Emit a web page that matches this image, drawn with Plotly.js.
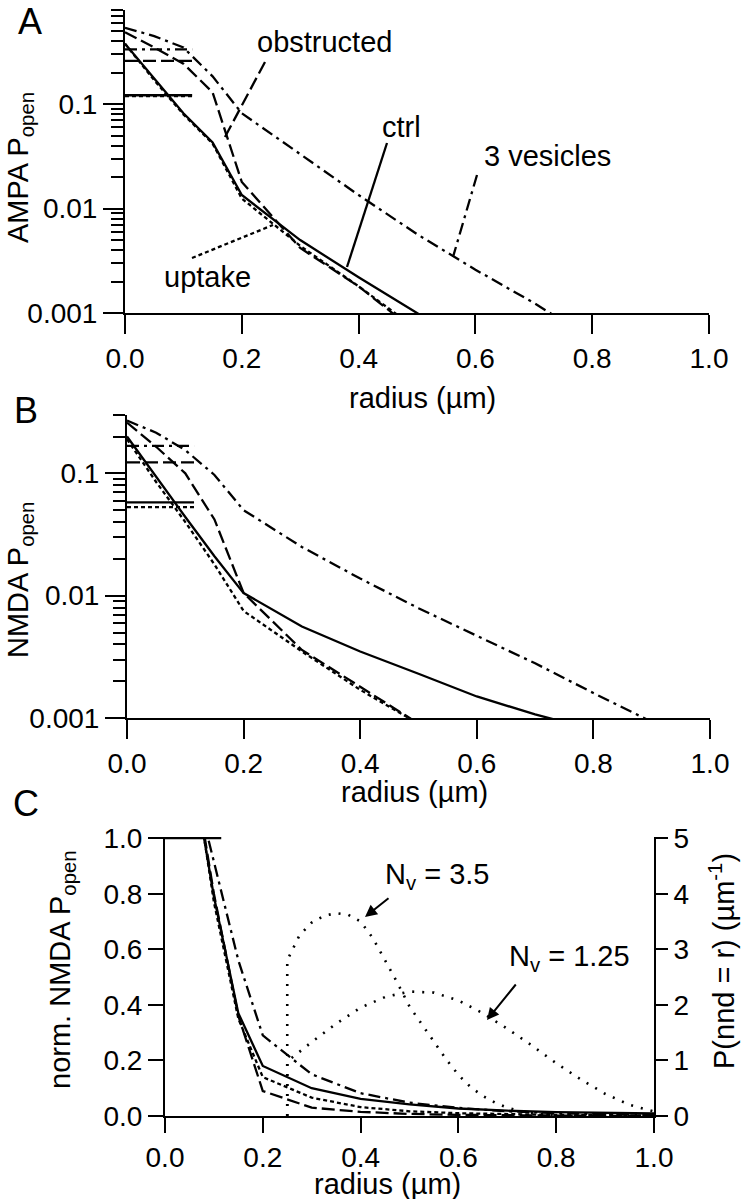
<!DOCTYPE html>
<html><head><meta charset="utf-8">
<script src="https://cdn.plot.ly/plotly-3.0.1.min.js"></script>
<style>html,body{margin:0;padding:0;background:#fff}#chart{width:745px;height:1199px}</style>
</head><body><div id="chart"></div>
<script>
// ---------- data ----------
const radius = [0, 0.05, 0.1, 0.15, 0.2, 0.3, 0.4, 0.5, 0.6, 0.7, 0.8, 0.9, 1.0];

// Panel A: AMPA Popen
const ctrlA   = [0.38, 0.175, 0.082, 0.043, 0.0135, 0.005, 0.0022, 0.001, 0.00045, 0.0002, 0.0001, 0.00005, 0.00003];
const obstrA  = [0.49, 0.35, 0.245, 0.13, 0.018, 0.0042, 0.0018, 0.00065, 0.0003, 0.00015, 0.00008, 0.00004, 0.00002];
const uptakeA = [0.38, 0.17, 0.08, 0.042, 0.0125, 0.0044, 0.0018, 0.0007, 0.0003, 0.00015, 0.00008, 0.00004, 0.00002];
const vesA    = [0.54, 0.45, 0.35, 0.185, 0.082, 0.033, 0.0135, 0.0057, 0.0026, 0.00125, 0.00055, 0.00025, 0.0001];

// Panel B: NMDA Popen
const ctrlB   = [0.20, 0.093, 0.044, 0.021, 0.0105, 0.0056, 0.0035, 0.0023, 0.0015, 0.00107, 0.0008, 0.0006, 0.00045];
const obstrB  = [0.26, 0.165, 0.10, 0.042, 0.0105, 0.0036, 0.0018, 0.0009, 0.0005, 0.0003, 0.0002, 0.0001, 0.00006];
const uptakeB = [0.19, 0.085, 0.040, 0.018, 0.0075, 0.0035, 0.0017, 0.0009, 0.0005, 0.0003, 0.0002, 0.0001, 0.00006];
const vesB    = [0.27, 0.215, 0.155, 0.097, 0.05, 0.025, 0.0138, 0.0079, 0.0047, 0.0028, 0.0016, 0.00093, 0.0005];

// mean Popen over the PSD (0 .. 0.115 um)
const meanX = [0, 0.115];
const meanA = {ctrl: 0.122, obstr: 0.26, uptake: 0.12, ves: 0.335};
const meanB = {ctrl: 0.058, obstr: 0.123, uptake: 0.053, ves: 0.168};

// Panel C: normalised NMDA Popen
const ctrlC   = [3.4, 1.31, 0.79, 0.37, 0.18, 0.10, 0.062, 0.042, 0.027, 0.019, 0.014, 0.011, 0.009];
const obstrC  = [2.1, 1.34, 0.80, 0.36, 0.09, 0.03, 0.015, 0.0075, 0.004, 0.002, 0.001, 0.0005, 0.0003];
const uptakeC = [3.6, 1.35, 0.77, 0.35, 0.14, 0.066, 0.032, 0.017, 0.01, 0.006, 0.004, 0.003, 0.002];
const vesC    = [1.6, 1.27, 0.915, 0.56, 0.29, 0.15, 0.082, 0.048, 0.029, 0.017, 0.01, 0.006, 0.003];
const normMean = [1, 1];

// nearest-neighbour distance distributions (right axis)
const nndX35 = [0.25, 0.25, 0.275, 0.3, 0.325, 0.35, 0.375, 0.4, 0.425, 0.45, 0.475, 0.5, 0.525, 0.55, 0.575, 0.6, 0.625, 0.65, 0.675, 0.7, 0.725, 0.75, 0.8, 0.85];
const nnd35  = [0, 2.8, 3.25, 3.48, 3.6, 3.65, 3.62, 3.5, 3.2, 2.8, 2.4, 1.97, 1.65, 1.34, 1.02, 0.74, 0.52, 0.36, 0.24, 0.15, 0.09, 0.05, 0.01, 0.0];
const nndX125 = [0.25, 0.25, 0.3, 0.35, 0.4, 0.45, 0.5, 0.55, 0.6, 0.65, 0.7, 0.75, 0.8, 0.85, 0.9, 0.95, 1.0];
const nnd125  = [0, 0.98, 1.33, 1.66, 1.95, 2.14, 2.24, 2.22, 2.08, 1.85, 1.57, 1.27, 0.95, 0.66, 0.4, 0.2, 0.08];

// ---------- styles ----------
const W = 745, H = 1199;
const FONT = 'Liberation Sans, Arial, Helvetica, sans-serif';
const STY = {
  ctrl:   {color: '#000', width: 2.3, dash: 'solid'},
  obstr:  {color: '#000', width: 2.3, dash: '13px,5px'},
  uptake: {color: '#000', width: 2.3, dash: '4px,3px'},
  ves:    {color: '#000', width: 2.3, dash: '12px,5px,3px,5px'},
  nnd:    {color: '#000', width: 2.6, dash: '2px,8px'}
};
const px = x => x / W;
const py = y => 1 - y / H;

const traces = [];
function line(x, y, sty, xa, ya, name) {
  traces.push({type: 'scatter', mode: 'lines', x: x, y: y, xaxis: xa, yaxis: ya, name: name,
               line: Object.assign({}, sty), hoverinfo: 'skip', showlegend: false});
}
const keys = ['ctrl', 'obstr', 'uptake', 'ves'];
const serA = {ctrl: ctrlA, obstr: obstrA, uptake: uptakeA, ves: vesA};
const serB = {ctrl: ctrlB, obstr: obstrB, uptake: uptakeB, ves: vesB};
const serC = {ctrl: ctrlC, obstr: obstrC, uptake: uptakeC, ves: vesC};
keys.forEach(k => {
  line(radius, serA[k], STY[k], 'x', 'y', k);
  line(meanX, [meanA[k], meanA[k]], STY[k], 'x', 'y', k + ' mean');
  line(radius, serB[k], STY[k], 'x2', 'y2', k);
  line(meanX, [meanB[k], meanB[k]], STY[k], 'x2', 'y2', k + ' mean');
  line(radius, serC[k], STY[k], 'x3', 'y3', k);
});
line(meanX, normMean, STY.ctrl, 'x3', 'y3', 'norm mean');
line(nndX35, nnd35, STY.nnd, 'x3', 'y4', 'Nv=3.5');
line(nndX125, nnd125, STY.nnd, 'x3', 'y4', 'Nv=1.25');

// ---------- axes ----------
function minorLog(lo, hi) {
  const v = [];
  for (let e = lo; e < hi; e++) for (let m = 2; m <= 9; m++) v.push(m * Math.pow(10, e));
  return v;
}
const tickfont = {family: FONT, size: 28, color: '#000'};
const base = {showline: true, linecolor: '#000', linewidth: 2, ticks: 'outside', tickwidth: 2,
              tickcolor: '#000', showgrid: false, zeroline: false, tickfont: tickfont, fixedrange: true};
const xBase = (dom, anchor, len) => Object.assign({}, base, {domain: dom, anchor: anchor, range: [0, 1],
              tickmode: 'linear', tick0: 0, dtick: 0.2, tickformat: '.1f', ticklen: len});
const yLog = (dom, anchor, top) => Object.assign({}, base, {domain: dom, anchor: anchor, type: 'log',
              range: [-3, Math.log10(top)], tickmode: 'array', tickvals: [0.001, 0.01, 0.1],
              ticktext: ['0.001', '0.01', '0.1'], ticklen: 20,
              minor: {tickmode: 'array', tickvals: minorLog(-3, 0).filter(v => v <= top + 1e-9),
                      ticks: 'outside', ticklen: 12, tickwidth: 2, tickcolor: '#000', showgrid: false}});

const layout = {
  width: W, height: H, margin: {l: 0, r: 0, t: 0, b: 0},
  paper_bgcolor: '#fff', plot_bgcolor: 'rgba(0,0,0,0)', showlegend: false,
  font: {family: FONT, size: 28, color: '#000'},
  xaxis:  xBase([125 / W, 709 / W], 'y', 19),
  yaxis:  yLog([py(313), py(10)], 'x', 0.8),
  xaxis2: xBase([127 / W, 710 / W], 'y2', 19),
  yaxis2: yLog([py(718), py(415)], 'x2', 0.3),
  xaxis3: xBase([165 / W, 654 / W], 'y3', 15),
  yaxis3: Object.assign({}, base, {domain: [py(1116), py(837)], anchor: 'x3', range: [0, 1.004],
           tickmode: 'array', tickvals: [0, 0.2, 0.4, 0.6, 0.8, 1.0], ticktext: ['0.0', '0.2', '0.4', '0.6', '0.8', '1.0'], ticklen: 15}),
  yaxis4: Object.assign({}, base, {domain: [py(1116), py(837)], anchor: 'x3', overlaying: 'y3', side: 'right',
           range: [0, 5.02], tickmode: 'array', tickvals: [0, 1, 2, 3, 4, 5], ticklen: 12}),
  annotations: [],
  shapes: []
};

function txt(t, x, y, size, angle) {
  layout.annotations.push({text: t, xref: 'paper', yref: 'paper', x: px(x), y: py(y),
    xanchor: 'center', yanchor: 'middle', showarrow: false, textangle: angle || 0,
    font: {family: FONT, size: size || 29, color: '#000'}});
}
function leader(x0, y0, x1, y1, dash) {
  layout.shapes.push({type: 'line', xref: 'paper', yref: 'paper', x0: px(x0), y0: py(y0), x1: px(x1), y1: py(y1),
    line: {color: '#000', width: 2.3, dash: dash}});
}
function arrow(tipX, tipY, tailX, tailY) {
  layout.annotations.push({text: '', xref: 'paper', yref: 'paper', x: px(tipX), y: py(tipY),
    ax: tailX - tipX, ay: tailY - tipY, showarrow: true, arrowhead: 2, arrowsize: 1.2, arrowwidth: 2,
    arrowcolor: '#000', standoff: 0, startstandoff: 0});
}

// panel letters
txt('A', 30, 21, 36); txt('B', 26, 410, 36); txt('C', 26, 803, 36);
// axis titles
txt('AMPA P<sub>open</sub>', 20, 168, 29, -90);
txt('NMDA P<sub>open</sub>', 20, 580, 29, -90);
txt('norm. NMDA P<sub>open</sub>', 62, 970, 29, -90);
txt('P(nnd = r) (µm<sup>-1</sup>)', 722, 961, 29, -90);
txt('radius (µm)', 422, 398, 29);
txt('radius (µm)', 414, 792, 29);
txt('radius (µm)', 387, 1184, 29);
// series labels, panel A
txt('obstructed', 324, 42); leader(265, 62, 225, 137, '13px,5px');
txt('ctrl', 402, 127);      leader(387, 143, 347, 267, 'solid');
txt('3 vesicles', 547, 156); leader(477, 175, 453, 257, '12px,5px,3px,5px');
txt('uptake', 207, 277);    leader(192, 258, 273, 225, '4px,3px');
// panel C labels
txt('N<sub>v</sub> = 3.5', 437, 876);  arrow(365, 917, 390, 897);
txt('N<sub>v</sub> = 1.25', 569, 958); arrow(487, 1020, 517, 983);

Plotly.newPlot('chart', traces, layout, {displayModeBar: false, staticPlot: true});
</script>
</body></html>
